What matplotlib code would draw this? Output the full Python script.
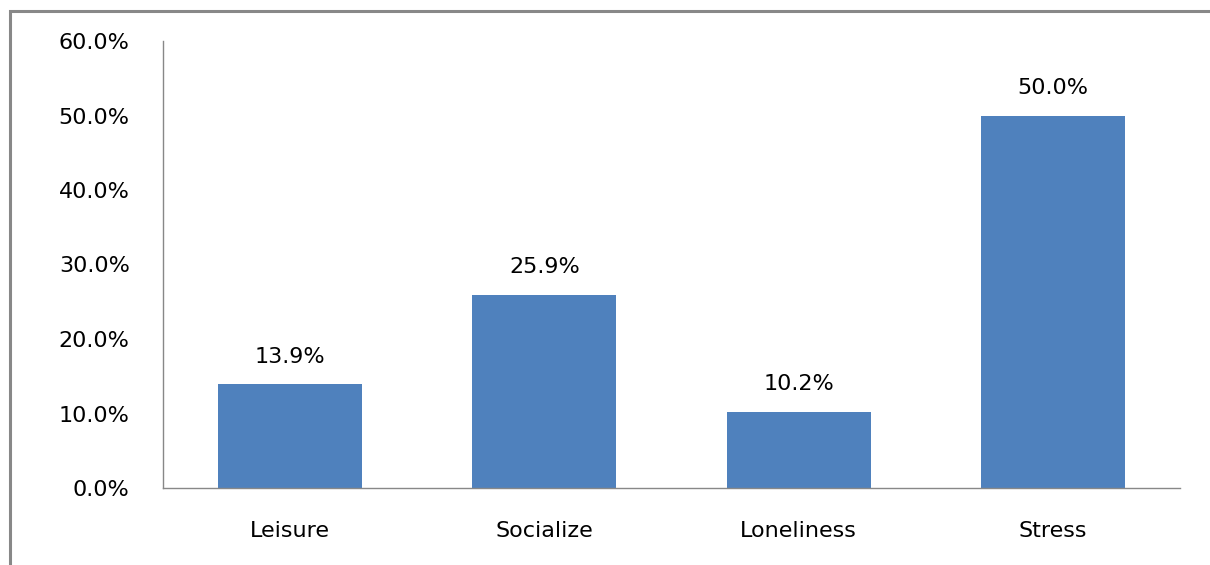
import matplotlib.pyplot as plt
from matplotlib.patches import Rectangle
from matplotlib.ticker import FuncFormatter

categories = ['Leisure', 'Socialize', 'Loneliness', 'Stress']
values = [13.9, 25.9, 10.2, 50.0]
yticks = [0, 10, 20, 30, 40, 50, 60]

fig = plt.figure(figsize=(12.1, 5.65), dpi=100)
ax = fig.add_axes([163 / 1210, 1 - 488 / 565, 1017 / 1210, 447 / 565])

x = range(len(categories))
bars = ax.bar(x, values, width=0.567, color='#4f81bd')
for b, v in zip(bars, values):
    ax.text(b.get_x() + b.get_width() / 2, v + 2.4, f'{v:.1f}%',
            ha='center', va='bottom', fontsize=16)

ax.set_xlim(-0.5, len(categories) - 0.5)
ax.set_ylim(0, 60)
ax.set_yticks(yticks)
ax.yaxis.set_major_formatter(FuncFormatter(lambda v, p: f'{v:.1f}%'))
ax.set_xticks(list(x))
ax.set_xticklabels(categories)
ax.tick_params(axis='both', length=0, labelsize=16)
ax.tick_params(axis='y', pad=24)
ax.tick_params(axis='x', pad=24)

for s in ['top', 'right']:
    ax.spines[s].set_visible(False)
for s in ['left', 'bottom']:
    ax.spines[s].set_color('#888888')
    ax.spines[s].set_linewidth(1)

# outer chart border
fig.patches.append(Rectangle((10 / 1210, -0.2), 1.2, 1.2 - 11 / 565,
                             transform=fig.transFigure, fill=False,
                             edgecolor='#888888', linewidth=2.2))

fig.savefig('out.png', dpi=100)
